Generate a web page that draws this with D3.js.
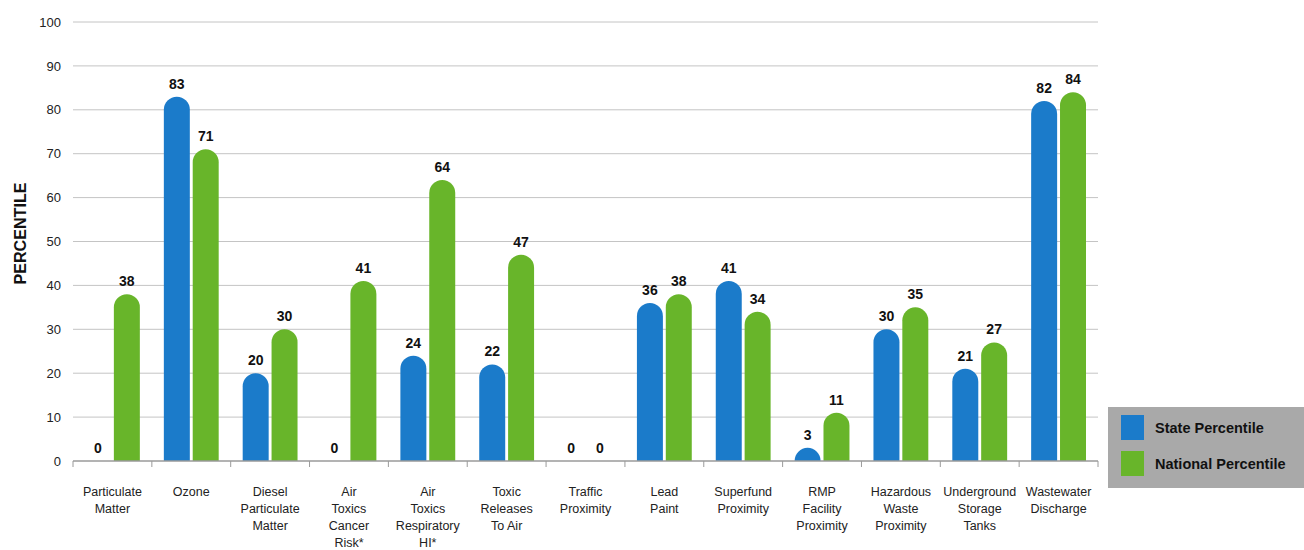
<!DOCTYPE html>
<html>
<head>
<meta charset="utf-8">
<script src="https://cdn.jsdelivr.net/npm/d3@7"></script>
<style>
  body { margin: 0; background: #fff; }
  #chart { width: 1304px; height: 550px; }
  text { font-family: "Liberation Sans", Arial, sans-serif; }
</style>
</head>
<body>
<div id="chart"></div>
<script>
// chart data
const categories = [
    ["Particulate", "Matter"],
    ["Ozone"],
    ["Diesel", "Particulate", "Matter"],
    ["Air", "Toxics", "Cancer", "Risk*"],
    ["Air", "Toxics", "Respiratory", "HI*"],
    ["Toxic", "Releases", "To Air"],
    ["Traffic", "Proximity"],
    ["Lead", "Paint"],
    ["Superfund", "Proximity"],
    ["RMP", "Facility", "Proximity"],
    ["Hazardous", "Waste", "Proximity"],
    ["Underground", "Storage", "Tanks"],
    ["Wastewater", "Discharge"]
];
const statePercentile = [0, 83, 20, 0, 24, 22, 0, 36, 41, 3, 30, 21, 82];
const nationalPercentile = [38, 71, 30, 41, 64, 47, 0, 38, 34, 11, 35, 27, 84];
const seriesNames = ["State Percentile", "National Percentile"];
const yTicks = [0, 10, 20, 30, 40, 50, 60, 70, 80, 90, 100];

const colors = {"State Percentile": "#1b7bca", "National Percentile": "#68b52a"};

const margin = {top: 22, right: 206, bottom: 89, left: 73};
const width = 1304 - margin.left - margin.right;
const height = 550 - margin.top - margin.bottom;

const svg = d3.select("#chart").append("svg")
    .attr("width", 1304)
    .attr("height", 550)
    .append("g")
    .attr("transform", "translate(" + margin.left + "," + margin.top + ")");

const keys = categories.map((c, i) => "c" + i);

const x = d3.scaleBand().domain(keys).range([0, width]).padding(0);
const x1 = d3.scaleBand().domain(seriesNames).range([12, x.bandwidth() - 12]).paddingInner(0.1);
const y = d3.scaleLinear().domain([0, 100]).range([height, 0]);

// gridlines
svg.append("g")
    .selectAll("line")
    .data(yTicks.filter(d => d > 0))
    .enter().append("line")
    .attr("x1", 0).attr("x2", width)
    .attr("y1", d => y(d)).attr("y2", d => y(d))
    .attr("stroke", "#c4c4c4")
    .attr("stroke-width", 1);

// y axis labels
const yAxis = d3.axisLeft(y).tickValues(yTicks).tickSize(0).tickPadding(12);
svg.append("g")
    .attr("class", "y-axis")
    .call(yAxis)
    .call(g => g.select(".domain").remove())
    .selectAll("text")
    .attr("font-size", 13)
    .attr("fill", "#222");

// y axis title
svg.append("text")
    .attr("transform", "translate(" + (-47) + "," + (height / 2 - 8) + ") rotate(-90)")
    .attr("text-anchor", "middle")
    .attr("font-weight", "bold")
    .attr("font-size", 17)
    .attr("textLength", 102)
    .attr("lengthAdjust", "spacingAndGlyphs")
    .attr("fill", "#111")
    .text("PERCENTILE");

// build rows
const rows = keys.map((k, i) => ({
    key: k,
    values: [
        {series: seriesNames[0], value: statePercentile[i]},
        {series: seriesNames[1], value: nationalPercentile[i]}
    ]
}));

function roundedBar(d) {
    const w = x1.bandwidth();
    const r = w / 2;
    const x0 = x1(d.series);
    const top = y(d.value);
    const bottom = y(0);
    const h = bottom - top;
    if (h <= 0) return "";
    if (h >= r) {
        return "M" + x0 + "," + bottom +
            "V" + (top + r) +
            "A" + r + "," + r + " 0 0 1 " + (x0 + w) + "," + (top + r) +
            "V" + bottom + "Z";
    }
    // short bar: just the top of the cap
    const dx = Math.sqrt(r * r - (r - h) * (r - h));
    return "M" + (x0 + r - dx) + "," + bottom +
        "A" + r + "," + r + " 0 0 1 " + (x0 + r + dx) + "," + bottom + "Z";
}

const groups = svg.append("g").selectAll("g")
    .data(rows)
    .enter().append("g")
    .attr("transform", d => "translate(" + x(d.key) + ",0)");

groups.selectAll("path")
    .data(d => d.values)
    .enter().append("path")
    .attr("d", roundedBar)
    .attr("fill", d => colors[d.series]);

groups.selectAll("text")
    .data(d => d.values)
    .enter().append("text")
    .attr("x", d => x1(d.series) + x1.bandwidth() / 2)
    .attr("y", d => y(d.value) - 8)
    .attr("text-anchor", "middle")
    .attr("font-weight", "bold")
    .attr("font-size", 14)
    .attr("fill", "#111")
    .text(d => d.value);

// x axis
const xAxisG = svg.append("g")
    .attr("class", "x-axis")
    .attr("transform", "translate(0," + height + ")");
xAxisG.append("line")
    .attr("x1", 0).attr("x2", width)
    .attr("stroke", "#9a9a9a").attr("stroke-width", 1.5);
xAxisG.selectAll(".tick")
    .data(keys.concat(["end"]))
    .enter().append("line")
    .attr("x1", d => d === "end" ? width : x(d))
    .attr("x2", d => d === "end" ? width : x(d))
    .attr("y1", 0).attr("y2", 6)
    .attr("stroke", "#9a9a9a");

const labels = xAxisG.selectAll(".xlabel")
    .data(rows)
    .enter().append("text")
    .attr("class", "xlabel")
    .attr("text-anchor", "middle")
    .attr("font-size", 12.5)
    .attr("fill", "#222")
    .attr("transform", d => "translate(" + (x(d.key) + x.bandwidth() / 2) + ",35)");
labels.selectAll("tspan")
    .data((d, i) => categories[i])
    .enter().append("tspan")
    .attr("x", 0)
    .attr("dy", (d, i) => i === 0 ? 0 : 17)
    .text(d => d);

// legend
const legend = d3.select("#chart svg").append("g")
    .attr("transform", "translate(1108,407)");
legend.append("rect")
    .attr("width", 196).attr("height", 81)
    .attr("fill", "#a9a9a9");
const li = legend.selectAll(".li")
    .data(seriesNames)
    .enter().append("g")
    .attr("transform", (d, i) => "translate(13," + (8 + i * 36) + ")");
li.append("rect")
    .attr("width", 23).attr("height", 25)
    .attr("fill", d => colors[d]);
li.append("text")
    .attr("x", 34).attr("y", 18)
    .attr("font-weight", "bold")
    .attr("font-size", 14.5)
    .attr("fill", "#111")
    .text(d => d);
</script>
</body>
</html>
